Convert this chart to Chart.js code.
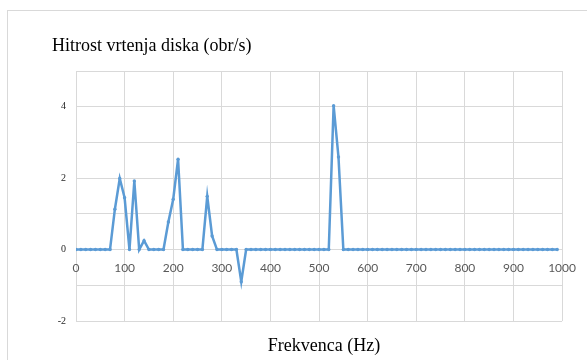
<!DOCTYPE html>
<html>
<head>
<meta charset="utf-8">
<script src="https://cdn.jsdelivr.net/npm/chart.js@4/dist/chart.umd.min.js"></script>
<style>
    html, body { margin: 0; padding: 0; background: #fff; overflow: hidden; }
    .frame {
        position: absolute; left: 7px; top: 10px;
        width: 700px; height: 500px;
        border: 1px solid #d9d9d9;
    }
    .wrap { position: absolute; left: 0; top: 0; width: 587px; height: 360px; }
</style>
</head>
<body>
<div class="frame"></div>
<div class="wrap"><canvas id="speedChart"></canvas></div>
<script>
const frequencies = [
    0, 10, 20, 30, 40, 50, 60, 70, 80, 90,
    100, 110, 120, 130, 140, 150, 160, 170, 180, 190,
    200, 210, 220, 230, 240, 250, 260, 270, 280, 290,
    300, 310, 320, 330, 340, 350, 360, 370, 380, 390,
    400, 410, 420, 430, 440, 450, 460, 470, 480, 490,
    500, 510, 520, 530, 540, 550, 560, 570, 580, 590,
    600, 610, 620, 630, 640, 650, 660, 670, 680, 690,
    700, 710, 720, 730, 740, 750, 760, 770, 780, 790,
    800, 810, 820, 830, 840, 850, 860, 870, 880, 890,
    900, 910, 920, 930, 940, 950, 960, 970, 980, 990,
]
const speeds = [
    0, 0, 0, 0, 0, 0, 0, 0, 1.13, 1.99,
    1.45, 0, 1.92, 0, 0.25, 0, 0, 0, 0, 0.77,
    1.41, 2.53, 0, 0, 0, 0, 0, 1.49, 0.38, 0,
    0, 0, 0, 0, -0.9, 0, 0, 0, 0, 0,
    0, 0, 0, 0, 0, 0, 0, 0, 0, 0,
    0, 0, 0, 4.03, 2.59, 0, 0, 0, 0, 0,
    0, 0, 0, 0, 0, 0, 0, 0, 0, 0,
    0, 0, 0, 0, 0, 0, 0, 0, 0, 0,
    0, 0, 0, 0, 0, 0, 0, 0, 0, 0,
    0, 0, 0, 0, 0, 0, 0, 0, 0, 0,
]
const yLabels = [-2, 0, 2, 4]

const chartTitle = "Hitrost vrtenja diska (obr/s)"
const xTitle = "Frekvenca (Hz)"

const lineColor = "#5b9bd5"
const gridColor = "#d9d9d9"
const serif = "'Liberation Serif', 'Times New Roman', serif"

Chart.defaults.font.family = serif

// titles drawn by hand: the x axis sits on y = 0, so its title can't go there
const titlesPlugin = {
    id: "titles",
    afterDraw(chart) {
        const ctx = chart.ctx
        const area = chart.chartArea
        ctx.save()
        ctx.fillStyle = "#000"
        ctx.textBaseline = "alphabetic"

        ctx.font = "18px " + serif
        ctx.textAlign = "left"
        ctx.fillText(chartTitle, 52, area.top - 20)

        ctx.textAlign = "center"
        ctx.fillText(xTitle, (area.left + area.right) / 2 + 5, area.bottom + 30)
        ctx.restore()
    },
}

const ctx = document.getElementById("speedChart").getContext("2d")

new Chart(ctx, {
    type: "line",
    data: {
        datasets: [
            {
                label: chartTitle,
                data: frequencies.map((f, i) => ({ x: f, y: speeds[i] })),
                borderColor: lineColor,
                backgroundColor: lineColor,
                borderWidth: 2.5,
                pointRadius: 1.7,
                pointBorderWidth: 0,
                pointBackgroundColor: lineColor,
                tension: 0,
            },
        ],
    },
    options: {
        responsive: true,
        maintainAspectRatio: false,
        animation: false,
        layout: {
            padding: { left: 52, right: 22, top: 71, bottom: 39 },
        },
        plugins: {
            legend: { display: false },
            tooltip: { enabled: false },
            title: { display: false },
        },
        scales: {
            x: {
                type: "linear",
                min: 0,
                max: 1000,
                position: { y: 0 },
                border: { display: true, color: gridColor },
                grid: { color: gridColor, drawTicks: false },
                ticks: {
                    stepSize: 100,
                    padding: 11,
                    color: "#595959",
                    font: { family: "Lato", size: 12 },
                    maxRotation: 0,
                    callback: (v) => String(v),
                },
            },
            y: {
                min: -2,
                max: 5,
                afterFit: (scale) => {
                    scale.width = 24
                },
                border: { display: false },
                grid: { color: gridColor, drawTicks: false },
                ticks: {
                    stepSize: 1,
                    padding: 10,
                    color: "#262626",
                    font: { size: 10 },
                    callback: (v) => (yLabels.includes(v) ? String(v) : ""),
                },
            },
        },
    },
    plugins: [titlesPlugin],
})
</script>
</body>
</html>
